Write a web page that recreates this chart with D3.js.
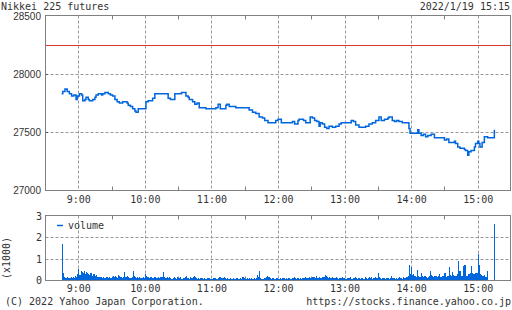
<!DOCTYPE html>
<html>
<head>
<meta charset="utf-8">
<script src="https://cdn.jsdelivr.net/npm/d3@7"></script>
<style>
body { margin: 0; background: #fff; }
text { fill: #333; }
.mono { font-family: "DejaVu Sans Mono", monospace; font-size: 10px; }
.sans { font-family: "Liberation Sans", Arial, sans-serif; font-size: 10px; }
</style>
</head>
<body>
<script>
// chart texts
const title = 'Nikkei 225 futures';
const stamp = '2022/1/19 15:15';
const footLeft = '(C) 2022 Yahoo Japan Corporation.';
const footRight = 'https://stocks.finance.yahoo.co.jp';

const prevClose = 28250;
const priceTicks = [27000, 27500, 28000, 28500];
const volTicks = [0, 1, 2, 3];
const hourLabels = ['9:00', '10:00', '11:00', '12:00', '13:00', '14:00', '15:00'];
const halfHours = ['9:30', '10:30', '11:30', '12:30', '13:30', '14:30'];

// price (time of change, new price)
const priceTimes = ['8:45','8:46','8:48','8:50','8:52','8:54','8:56','8:58','8:59','9:01',
  '9:03','9:04','9:06','9:07','9:09','9:10','9:13','9:15','9:16','9:18',
  '9:21','9:22','9:24','9:27','9:29','9:31','9:33','9:35','9:37','9:40',
  '9:44','9:45','9:47','9:49','9:51','9:52','9:54','10:01','10:03','10:07',
  '10:09','10:21','10:23','10:27','10:33','10:37','10:39','10:40','10:43','10:45',
  '10:47','10:49','10:55','11:04','11:06','11:08','11:13','11:14','11:16','11:22',
  '11:34','11:37','11:40','11:43','11:46','11:48','11:51','11:58','12:00','12:03',
  '12:13','12:15','12:18','12:19','12:23','12:25','12:29','12:31','12:33','12:35',
  '12:37','12:38','12:40','12:42','12:44','12:46','12:49','12:52','12:55','12:57',
  '13:06','13:08','13:10','13:13','13:19','13:22','13:25','13:28','13:31','13:33',
  '13:36','13:39','13:40','13:43','13:45','13:47','13:49','13:52','13:58','13:59',
  '14:06','14:07','14:09','14:11','14:13','14:15','14:18','14:21','14:30','14:32',
  '14:34','14:39','14:40','14:42','14:44','14:48','14:49','14:51','14:52','14:54',
  '14:57','14:58','15:00','15:01','15:02','15:04','15:06','15:09','15:15'];
const prices = [27830,27850,27870,27850,27830,27810,27820,27780,27810,27830,
  27820,27770,27780,27800,27780,27770,27780,27800,27820,27830,
  27820,27830,27840,27830,27820,27810,27780,27760,27750,27760,
  27750,27730,27720,27700,27680,27670,27700,27760,27770,27790,
  27830,27790,27780,27830,27840,27810,27800,27780,27760,27740,
  27750,27710,27700,27710,27740,27700,27730,27740,27720,27710,
  27690,27670,27660,27630,27620,27600,27580,27600,27610,27580,
  27590,27570,27600,27610,27600,27580,27630,27620,27600,27590,
  27550,27580,27570,27540,27530,27550,27540,27550,27570,27580,
  27600,27590,27560,27540,27550,27570,27580,27600,27630,27600,
  27610,27620,27630,27600,27590,27600,27590,27580,27530,27490,
  27520,27490,27470,27480,27460,27470,27480,27450,27430,27440,
  27410,27420,27400,27370,27360,27350,27340,27300,27330,27340,
  27370,27400,27420,27400,27370,27410,27460,27450,27520];

// volume per minute from 8:45, plus the closing auction
const volStart = '8:45';
const volumes = [1690,
  320,150,110,90,130,
  100,80,120,90,150,110,200,
  150,280,500,220,
  430,380,350,420,300,380,340,280,
  250,330,200,280,300,180,220,150,130,
  120,150,100,140,90,110,160,120,100,130,80,150,
  180,120,200,150,100,220,170,130,90,140,
  380,160,120,200,150,110,90,140,
  420,
  180,130,100,150,90,120,80,110,140,100,260,
  200,150,120,90,130,100,80,120,150,110,
  90,130,100,150,120,360,150,100,80,120,
  100,130,80,60,110,150,90,70,120,100,80,140,60,90,110,130,170,100,80,60,120,90,150,200,130,
  90,70,110,60,80,100,50,90,70,60,100,80,110,70,60,90,80,100,70,60,80,120,140,110,90,150,80,60,90,70,
  60,80,50,90,70,60,100,80,50,70,90,60,120,80,70,60,90,50,80,70,
  80,60,90,70,100,250,120,400,90,70,60,80,100,160,170,140,120,90,60,80,
  70,60,90,80,50,70,100,60,80,110,70,90,60,80,100,70,50,90,120,80,60,100,110,70,90,60,80,100,120,90,
  80,100,130,90,110,150,120,90,170,100,80,130,110,90,140,120,250,170,130,100,150,110,90,130,100,80,120,90,70,100,
  100,80,130,90,70,60,110,80,90,130,60,70,100,120,80,60,90,110,70,100,80,60,130,90,70,100,120,80,150,70,
  100,130,90,80,320,150,90,70,100,80,
  60,90,100,80,70,110,170,90,80,60,100,70,90,120,80,100,70,130,90,150,
  120,200,700,300,590,250,280,200,150,470,180,150,120,330,170,130,210,120,100,150,
  200,440,250,180,150,200,170,150,190,260,150,130,200,170,320,150,200,180,590,220,
  200,365,250,180,200,300,900,440,420,210,190,670,715,200,180,
  300,280,320,670,330,300,290,340,310,1220,715,280,220,200,180,250,160,440,0,0];
const closeTime = '15:15';
const closeVolume = 2640;

const W = 512, H = 310;
const blue = '#0066dd', axisCol = '#808080', gridCol = '#999';
const parse = d3.timeParse('%H:%M');

const svg = d3.select('body').append('svg')
  .attr('width', W).attr('height', H);

const x = d3.scaleTime()
  .domain([parse('8:30'), parse('15:30')])
  .range([45, 511]);
const y = d3.scaleLinear().domain([27000, 28500]).range([190, 16]);
const yv = d3.scaleLinear().domain([0, 3]).range([280, 216]);

const crisp = v => Math.round(v) + 0.5;

// panels
const panels = [
  { top: 15.5, bottom: 190.5, labelY: 203 },
  { top: 215.5, bottom: 280.5, labelY: 292 }
];

panels.forEach(p => {
  // hour grid
  svg.append('g').selectAll('line').data(hourLabels).join('line')
    .attr('x1', d => crisp(x(parse(d)))).attr('x2', d => crisp(x(parse(d))))
    .attr('y1', p.top).attr('y2', p.bottom)
    .attr('stroke', gridCol).attr('stroke-dasharray', '3,2');
  // half hour ticks
  const g = svg.append('g');
  halfHours.forEach(d => {
    const xx = crisp(x(parse(d)));
    g.append('line').attr('x1', xx).attr('x2', xx).attr('y1', p.top).attr('y2', p.top + 4).attr('stroke', axisCol);
    g.append('line').attr('x1', xx).attr('x2', xx).attr('y1', p.bottom - 4).attr('y2', p.bottom).attr('stroke', axisCol);
  });
  svg.append('g').selectAll('text').data(hourLabels).join('text')
    .attr('class', 'mono')
    .attr('x', d => x(parse(d)) + 0.5).attr('y', p.labelY)
    .attr('text-anchor', 'middle')
    .text(d => d);
});

// price grid
svg.append('g').selectAll('line').data(priceTicks.slice(1, -1)).join('line')
  .attr('x1', 45.5).attr('x2', 510.5)
  .attr('y1', d => crisp(y(d))).attr('y2', d => crisp(y(d)))
  .attr('stroke', gridCol).attr('stroke-dasharray', '3,2');
svg.append('g').selectAll('line').data(priceTicks.slice(1, -1)).join('line')
  .attr('x1', 45.5).attr('x2', 48)
  .attr('y1', d => crisp(y(d))).attr('y2', d => crisp(y(d)))
  .attr('stroke', '#555').attr('stroke-width', 1);
svg.append('g').selectAll('text').data(priceTicks).join('text')
  .attr('class', 'sans')
  .attr('x', 41).attr('y', d => y(d) + 3.5)
  .attr('text-anchor', 'end')
  .text(d => d);

// volume grid
svg.append('g').selectAll('line').data(volTicks.slice(1, -1)).join('line')
  .attr('x1', 45.5).attr('x2', 510.5)
  .attr('y1', d => crisp(yv(d))).attr('y2', d => crisp(yv(d)))
  .attr('stroke', gridCol).attr('stroke-dasharray', '3,2');
svg.append('g').selectAll('text').data(volTicks).join('text')
  .attr('class', 'mono')
  .attr('x', 42).attr('y', d => yv(d) + 4)
  .attr('text-anchor', 'end')
  .text(d => d);

// previous close
svg.append('line')
  .attr('x1', 45.5).attr('x2', 510.5)
  .attr('y1', crisp(y(prevClose))).attr('y2', crisp(y(prevClose)))
  .attr('stroke', '#dd3333');

// price line
const pts = priceTimes.map((t, i) => [parse(t), prices[i]]);
svg.append('path')
  .datum(pts)
  .attr('fill', 'none')
  .attr('stroke', blue)
  .attr('stroke-width', 1.5)
  .attr('d', d3.line().x(d => x(d[0])).y(d => y(d[1])).curve(d3.curveStepAfter));

// volume bars
const t0 = parse(volStart);
const bars = volumes.map((v, i) => ({ t: d3.timeMinute.offset(t0, i), v }))
  .concat([{ t: parse(closeTime), v: closeVolume }]);
const bw = x(d3.timeMinute.offset(t0, 1)) - x(t0);
svg.append('g').attr('shape-rendering', 'crispEdges')
  .selectAll('rect').data(bars.filter(d => d.v > 0)).join('rect')
  .attr('x', d => x(d.t))
  .attr('width', bw)
  .attr('y', d => yv(d.v / 1000))
  .attr('height', d => yv(0) - yv(d.v / 1000))
  .attr('fill', blue);

// borders
panels.forEach(p => {
  svg.append('rect')
    .attr('x', 45.5).attr('y', p.top)
    .attr('width', 465).attr('height', p.bottom - p.top)
    .attr('fill', 'none').attr('stroke', axisCol);
});

// legend
svg.append('line').attr('x1', 57).attr('x2', 63).attr('y1', 225.5).attr('y2', 225.5)
  .attr('stroke', blue).attr('stroke-width', 1.5);
svg.append('text').attr('class', 'mono').attr('x', 68).attr('y', 229).text('volume');

svg.append('text').attr('class', 'mono')
  .attr('transform', 'translate(10,258) rotate(-90)')
  .attr('text-anchor', 'middle')
  .text('(x1000)');

// header & footer
svg.append('text').attr('class', 'mono').attr('x', 1).attr('y', 10).text(title);
svg.append('text').attr('class', 'mono').attr('x', 510).attr('y', 10).attr('text-anchor', 'end').text(stamp);
svg.append('text').attr('class', 'mono').attr('x', 5).attr('y', 305).text(footLeft);
svg.append('text').attr('class', 'mono').attr('x', 511).attr('y', 305).attr('text-anchor', 'end').text(footRight);
</script>
</body>
</html>
